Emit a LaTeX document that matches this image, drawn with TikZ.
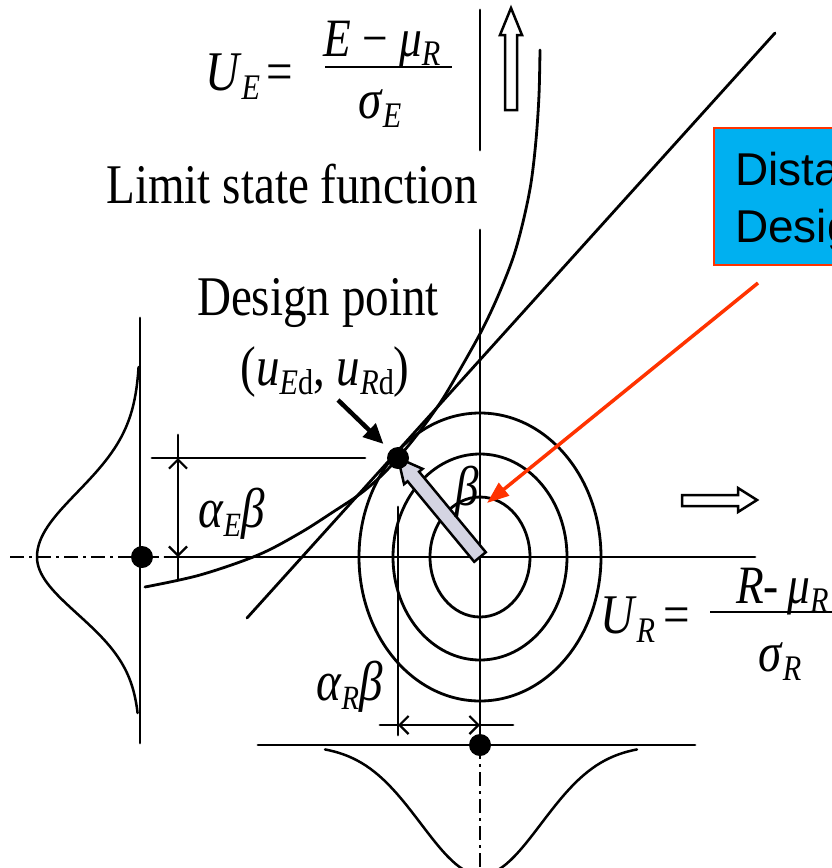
\documentclass[tikz,border=0pt]{standalone}
\usepackage{graphicx}
\usepackage{fontspec}
\setmainfont{Liberation Serif}
\newfontfamily\boxfont{Liberation Sans}
\usetikzlibrary{arrows.meta,calc}
\newcommand{\sq}[1]{\scalebox{0.84}[1]{#1}}
\newcommand{\sub}[2][36]{\raisebox{-9pt}{\fontsize{#1}{#1}\selectfont #2}}
\definecolor{boxblue}{HTML}{00B0F0}
\definecolor{boxred}{HTML}{FF3300}
\definecolor{arrowgray}{HTML}{D4D4E2}
\tikzset{
  ln/.style={line width=2.8pt, line cap=round},
  thinln/.style={line width=2.5pt, line cap=round},
  dashdot/.style={line width=2.5pt, dash pattern=on 14pt off 5pt on 3pt off 5pt},
  lbl/.style={inner sep=0pt, font=\fontsize{56}{60}\selectfont},
  fraclbl/.style={inner sep=0pt, font=\fontsize{54}{58}\selectfont},
  dimarrow/.style={line width=2.2pt, {Straight Barb[length=9pt,width=18pt]}-{Straight Barb[length=9pt,width=18pt]}},
  dot/.style={circle, fill=black, inner sep=0pt, minimum size=22pt},
  hollow/.style={line width=2.5pt, fill=white, line join=miter},
  pointer/.style={line width=4.5pt, -{Triangle[length=20pt,width=18pt]}},
  redpointer/.style={line width=3.5pt, draw=boxred, -{Triangle[length=22pt,width=16pt]}},
  bluebox/.style={draw=boxred, line width=2pt, fill=boxblue, inner sep=0pt, anchor=north west},
  boxtxt/.style={inner sep=0pt, anchor=base west, font=\boxfont\fontsize{46}{50}\selectfont},
}
\begin{document}
\begin{tikzpicture}[x=1pt,y=-1pt]
\useasboundingbox (0,0) rectangle (832,868);
\coordinate (O) at (480,557);

% concentric ellipses
\draw[ln] (O) ellipse [x radius=50pt, y radius=60pt];
\draw[ln] (O) ellipse [x radius=87pt, y radius=103pt];
\draw[ln] (O) ellipse [x radius=121pt, y radius=144pt];

% horizontal axis
\coordinate (hL) at (10,557);
\coordinate (hM) at (165,557);
\coordinate (hR) at (755,557);
\draw[dashdot] (hL) -- (hM);
\draw[ln] (hM) -- (hR);

% vertical axis
\coordinate (vT) at (480,10);
\coordinate (vT2) at (480,150);
\coordinate (vM) at (480,230);
\coordinate (vB) at (480,745);
\coordinate (vE) at (480,868);
\draw[ln] (vT) -- (vT2);
\draw[ln] (vM) -- (vB);
\draw[dashdot] (vB) -- (vE);

% left distribution
\coordinate (lT) at (140,318);
\coordinate (lB) at (140,743);
\draw[ln] (lT) -- (lB);
\draw[thinln] plot[domain=367:557, samples=50, variable=\t] ({140-103*exp(-0.5*((\t-557)/65)^2)}, \t);
\draw[thinln] plot[domain=557:713, samples=50, variable=\t] ({140-103*exp(-0.5*((\t-557)/57)^2)}, \t);

% bottom distribution
\coordinate (bL) at (258,745);
\coordinate (bR) at (695,745);
\draw[ln] (bL) -- (bR);
\draw[thinln] plot[domain=325:637, samples=70] (\x, {745+130*exp(-0.5*((\x-481)/60)^2)});

% limit state curve
\draw[ln] plot[smooth, tension=0.55] coordinates {(145,587) (200,575) (258,555) (300,533) (333,512) (360,494) (380,477) (398,458) (420,431) (442,400) (462,366) (482,330) (498,296) (513,258) (523,222) (531,183) (536,140) (539,95) (540,50)};

% tangent line
\coordinate (tA) at (247,618);
\coordinate (tB) at (775,33);
\draw[ln] (tA) -- (tB);

% alpha_E beta dimension
\coordinate (eA) at (152,458);
\coordinate (eB) at (365,458);
\draw[ln] (eA) -- (eB);
\coordinate (edT) at (178,435);
\coordinate (edB) at (178,580);
\draw[ln] (edT) -- (edB);
\coordinate (ed1) at (178,458);
\coordinate (ed2) at (178,557);
\draw[dimarrow] (ed1) -- (ed2);

% alpha_R beta dimension
\coordinate (rT) at (398,507);
\coordinate (rB) at (398,735);
\draw[ln] (rT) -- (rB);
\coordinate (rdL) at (380,725);
\coordinate (rdR) at (513,725);
\draw[ln] (rdL) -- (rdR);
\coordinate (rd1) at (398,725);
\coordinate (rd2) at (480,725);
\draw[dimarrow] (rd1) -- (rd2);

% design point
\coordinate (dpc) at (398,458);

% gray beta arrow
\coordinate (gB) at ($(dpc)!24pt!(O)$);
\coordinate (gh1) at ($(gB)!12pt!90:(O)$);
\coordinate (gh2) at ($(gB)!12pt!-90:(O)$);
\coordinate (gs1) at ($(gB)!7.5pt!90:(O)$);
\coordinate (gs2) at ($(gB)!7.5pt!-90:(O)$);
\coordinate (gt1) at ($(O)!7.5pt!-90:(dpc)$);
\coordinate (gt2) at ($(O)!7.5pt!90:(dpc)$);
\draw[line width=2.5pt, fill=arrowgray, line join=miter] (dpc) -- (gh1) -- (gs1) -- (gt1) -- (gt2) -- (gs2) -- (gh2) -- cycle;

% dots
\node[dot] (dp) at (dpc) {};
\node[dot] (dL) at (142,557) {};
\node[dot] (dB) at (480,745) {};

% hollow direction arrows
\draw[hollow] (505,110) -- (505,35) -- (500,35) -- (511,8) -- (522,35) -- (517,35) -- (517,110) -- cycle;
\draw[hollow] (682,495) -- (738,495) -- (738,488) -- (757,500) -- (738,512) -- (738,506) -- (682,506) -- cycle;

% pointer to design point
\coordinate (pA) at (338,400);
\draw[pointer, shorten >=9pt] (pA) -- (dp);

% U_E formula
\node[lbl, anchor=base west] (ue) at (205,90) {\sq{\textit{U}\sub{\textit{E}}\hspace{8pt}=}};
\node[fraclbl, anchor=base west] (uen) at (323,56) {\sq{\textit{E} − \textit{μ}\sub[36]{\textit{R}}}};
\coordinate (ueb1) at (325,67);
\coordinate (ueb2) at (452,67);
\draw[line width=2.6pt] (ueb1) -- (ueb2);
\node[lbl, anchor=base west] (ued) at (358,118) {\sq{\textit{σ}\sub[36]{\textit{E}}}};

% other labels
\node[lbl, anchor=base] (lsf) at (292,203) {\sq{Limit state function}};
\node[lbl, anchor=base] (dpt) at (318,315) {\sq{Design point}};
\node[lbl, anchor=base] (dpco) at (325,385) {\sq{(\textit{u}\sub{\textit{E}d}, \textit{u}\sub{\textit{R}d})}};
\node[lbl, anchor=base west] (aeb) at (198,527) {\sq{\textit{α}\sub[34]{\textit{E}}\textit{β}}};
\node[lbl, anchor=base west] (arb) at (316,700) {\sq{\textit{α}\sub[34]{\textit{R}}\textit{β}}};
\node[lbl, anchor=base] (bet) at (467,505) {\sq{\textit{β}}};

% U_R formula
\node[lbl, anchor=base west] (ur) at (600,633) {\sq{\textit{U}\sub{\textit{R}}\hspace{10pt}=}};
\node[fraclbl, anchor=base west] (urn) at (736,603) {\sq{\textit{R}-\hspace{10pt}\textit{μ}\sub[36]{\textit{R}}}};
\coordinate (urb1) at (710,612);
\coordinate (urb2) at (860,612);
\draw[line width=2.6pt] (urb1) -- (urb2);
\node[lbl, anchor=base west] (urd) at (758,671) {\sq{\textit{σ}\sub[36]{\textit{R}}}};

% blue callout box
\node[bluebox, minimum width=200pt, minimum height=137pt] (box) at (713,127) {};
\node[boxtxt] (bt1) at (735,185) {Distance to};
\node[boxtxt] (bt2) at (735,242) {Design point};
\coordinate (raS) at (758,283);
\coordinate (raE) at (487,503);
\draw[redpointer] (raS) -- (raE);
\end{tikzpicture}
\end{document}
